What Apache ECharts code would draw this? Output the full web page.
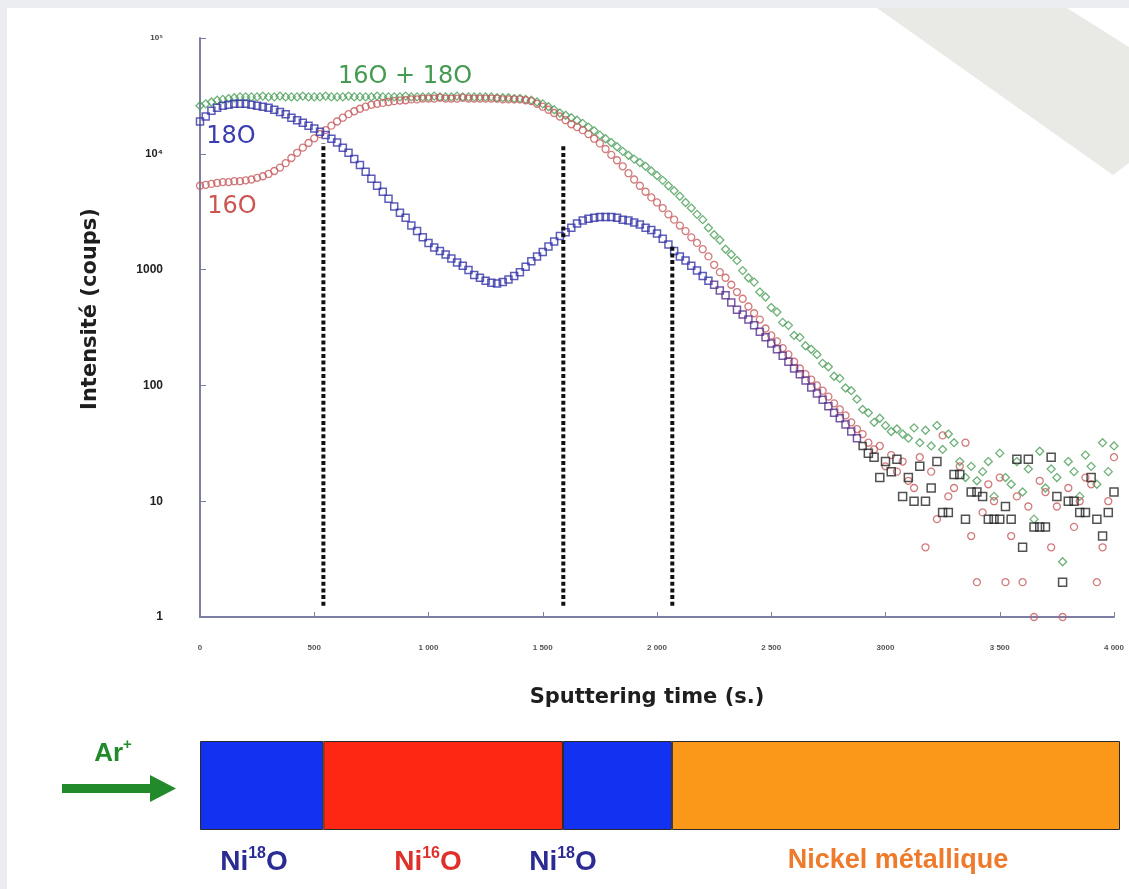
<!DOCTYPE html>
<html>
<head>
<meta charset="utf-8">
<title>Profil SIMS Ni18O / Ni16O</title>
<script src="https://cdn.jsdelivr.net/npm/echarts@6/dist/echarts.min.js"></script>
<style>
  html, body { margin: 0; padding: 0; background: #fff; }
  #chart { width: 1129px; height: 889px; }
</style>
</head>
<body>
<div id="chart"></div>
<script>
// un point toutes les 25 s, de 0 à 4000 s
var tStart = 0
var tStep = 25

// 16O + 18O (coups)
var o16o18 = [
  26000, 27000, 28000, 29000, 29500, 30000, 30500, 31000, 31000, 31000,
  31000, 31500, 31000, 31000, 31500, 31000, 31000, 31000, 31500, 31000,
  31000, 31000, 31500, 31000, 31000, 31000, 31500, 31000, 31000, 31000,
  31000, 31500, 31000, 31000, 31000, 31000, 31500, 31000, 31000, 31000,
  31000, 31500, 31000, 31000, 31000, 31500, 31000, 31000, 31000, 31000,
  31000, 31000, 30500, 30500, 30500, 30000, 30000, 29500, 29000, 28000,
  27000, 25500, 24000, 22500, 21500, 20500, 19500, 18300, 17000, 15800,
  14500, 13500, 12500, 11500, 10500, 9700, 9000, 8400, 7800, 7100,
  6500, 5900, 5300, 4800, 4300, 3800, 3400, 3000, 2700, 2300,
  2000, 1800, 1500, 1350, 1200, 980, 850, 780, 640, 580,
  470, 430, 350, 330, 270, 260, 220, 205, 185, 155,
  145, 120, 115, 95, 90, 76, 62, 58, 48, 52,
  45, 40, 42, 38, 35, 43, 32, 41, 30, 45,
  28, 38, 32, 22, 16, 20, 15, 18, 22, 11,
  26, 16, 14, 22, 12, 19, 7, 27, 13, 19,
  16, 3, 22, 18, 11, 25, 20, 14, 32, 18,
  30
]

// 16O (coups)
var o16 = [
  5300, 5400, 5500, 5600, 5700, 5700, 5800, 5800, 5900, 6000,
  6200, 6400, 6700, 7100, 7600, 8300, 9200, 10200, 11300, 12400,
  13600, 14800, 16000, 17500, 19000, 20500, 22000, 23300, 24500, 25500,
  26500, 27000, 27500, 28000, 28500, 28800, 29000, 29500, 29500, 30000,
  30000, 30000, 30500, 30000, 30000, 30000, 30500, 30000, 30000, 30000,
  30000, 30000, 30000, 29500, 29500, 29500, 29500, 29000, 28500, 27000,
  25500, 24000, 22500, 21000, 19500, 18000, 17000, 16000, 14800, 13500,
  12300, 11000, 9800, 8800, 7800, 6800, 6000, 5300, 4700, 4200,
  3800, 3400, 3000, 2700, 2400, 2150, 1900, 1700, 1500, 1300,
  1100, 950, 850, 740, 640, 560, 480, 420, 370, 310,
  270, 240, 210, 185, 160, 140, 125, 112, 100, 90,
  80, 70, 62, 55, 48, 42, 38, 32, 28, 30,
  20, 25, 18, 22, 15, 13, 24, 4, 18, 7,
  37, 11, 13, 20, 32, 5, 2, 8, 14, 10,
  16, 2, 5, 11, 2, 9, 1, 15, 12, 4,
  9, 1, 13, 6, 10, 16, 14, 2, 4, 10,
  24
]

// 18O (coups)
var o18 = [
  19000, 21000, 23500, 25000, 26000, 26500, 27000, 27000, 27000, 26500,
  26000, 25500, 25000, 24000, 23000, 22000, 20500, 19500, 18500, 17500,
  16500, 15500, 14500, 13500, 12500, 11300, 10200, 9000, 8000, 7000,
  6100, 5300, 4700, 4100, 3500, 3100, 2800, 2400, 2150, 1900,
  1700, 1550, 1450, 1350, 1250, 1150, 1080, 990, 900, 850,
  800, 770, 760, 780, 820, 880, 950, 1060, 1180, 1300,
  1420, 1580, 1750, 1950, 2100, 2300, 2500, 2650, 2750, 2800,
  2850, 2850, 2850, 2800, 2700, 2650, 2550, 2450, 2300, 2200,
  2050, 1850, 1650, 1450, 1300, 1200, 1080, 980, 880, 800,
  740, 660, 600, 520, 450, 410, 370, 330, 290, 260,
  230, 205, 180, 160, 140, 125, 110, 96, 85, 75,
  66, 58, 52, 46, 40, 35, 30, 26, 24, 16,
  22, 18, 23, 11, 16, 10, 20, 10, 13, 22,
  8, 8, 17, 17, 7, 12, 12, 11, 7, 7,
  7, 9, 7, 23, 4, 23, 6, 6, 6, 24,
  11, 2, 10, 10, 8, 8, 16, 7, 5, 8,
  12
]

// interfaces entre couches (s) et haut des pointillés (coups)
var interfaceTimes = [540, 1590, 2067]
var interfaceTops = [12400, 12100, 1600]
var interfaceBottom = 1.25

// empilement de l'échantillon (épaisseurs en s de pulvérisation)
var layerWidths = [540, 1050, 477, 1963]
var layerColors = ['#1331f0', '#fd2713', '#1331f0', '#fb9719']

var xTickLabels = ['0', '500', '1 000', '1 500', '2 000', '2 500', '3000', '3 500', '4 000']
var yTickLabels = ['1', '10', '100', '1000', '{b|10⁴}', '{s|10⁵}']

var FONT = 'Liberation Sans, Arial, sans-serif'
var TITLE_FONT = 'DejaVu Sans, Liberation Sans, sans-serif'

function toPoints(values, colorAt) {
  var pts = []
  values.forEach(function (v, i) {
    if (v == null) return
    var t = tStart + i * tStep
    pts.push({ value: [t, v], itemStyle: { borderColor: colorAt(t) } })
  })
  return pts
}

function o18Color(t) {
  if (t < 2250) return '#3535a8'
  if (t < 2900) return '#55308c'
  return '#262626'
}

var chart = echarts.init(document.getElementById('chart'))

var series = [
  {
    name: '16O + 18O',
    type: 'scatter',
    symbol: 'diamond',
    symbolSize: 8,
    itemStyle: { color: 'rgba(0,0,0,0)', borderWidth: 1.3 },
    data: toPoints(o16o18, function () { return '#4a9e58' })
  },
  {
    name: '16O',
    type: 'scatter',
    symbol: 'circle',
    symbolSize: 7,
    itemStyle: { color: 'rgba(0,0,0,0)', borderWidth: 1.3 },
    data: toPoints(o16, function () { return '#c55a5e' })
  },
  {
    name: '18O',
    type: 'scatter',
    symbol: 'rect',
    symbolSize: function (d) { return d[0] > 2900 ? 8 : 7 },
    itemStyle: { color: 'rgba(0,0,0,0)', borderWidth: 1.5 },
    data: toPoints(o18, o18Color)
  }
]

// pointillés verticaux aux interfaces
interfaceTimes.forEach(function (t, i) {
  series.push({
    type: 'line',
    symbol: 'none',
    lineStyle: { color: '#111', width: 4, type: [4, 2.7], cap: 'butt' },
    data: [[t, interfaceBottom], [t, interfaceTops[i]]],
    z: 5
  })
})

// barre des couches
layerWidths.forEach(function (w, i) {
  series.push({
    type: 'bar',
    xAxisIndex: 1,
    yAxisIndex: 1,
    stack: 'couches',
    barWidth: '100%',
    data: [w],
    itemStyle: { color: layerColors[i], borderColor: '#2a2a2a', borderWidth: 1 }
  })
})

function layerLabel(x, sup, color) {
  return {
    type: 'text',
    x: x,
    y: 861,
    style: {
      text: '{b|Ni}{s|' + sup + '}{b|O}',
      align: 'center',
      verticalAlign: 'middle',
      rich: {
        b: { font: 'bold 28px ' + FONT, fill: color, verticalAlign: 'bottom', lineHeight: 30 },
        s: { font: 'bold 16px ' + FONT, fill: color, verticalAlign: 'top', lineHeight: 30, padding: [0, 0, 10, 0] }
      }
    }
  }
}

var option = {
  animation: false,
  backgroundColor: '#fff',
  textStyle: { fontFamily: FONT },
  grid: [
    { left: 200, right: 15, top: 38, height: 579 },
    { left: 200, right: 9, top: 741, height: 89 }
  ],
  xAxis: [
    {
      type: 'value',
      min: 0,
      max: 4000,
      interval: 500,
      axisLine: { lineStyle: { color: '#7d7fa2', width: 2 } },
      axisTick: { inside: true, length: 5, lineStyle: { color: '#7d7fa2' } },
      axisLabel: {
        margin: 27,
        fontSize: 8,
        fontWeight: 'bold',
        color: '#555',
        formatter: function (v) { return xTickLabels[Math.round(v / 500)] }
      },
      splitLine: { show: false }
    },
    { gridIndex: 1, type: 'value', min: 0, max: 4030, show: false }
  ],
  yAxis: [
    {
      type: 'log',
      logBase: 10,
      min: 1,
      max: 100000,
      axisLine: { show: true, lineStyle: { color: '#7d7fa2', width: 2 } },
      axisTick: { show: true, inside: true, length: 6, lineStyle: { color: '#7d7fa2' } },
      axisLabel: {
        margin: 37,
        fontSize: 12,
        fontWeight: 'bold',
        color: '#222',
        formatter: function (v) { return yTickLabels[Math.round(Math.log10(v))] },
        rich: {
          b: { fontSize: 11, fontWeight: 'bold', color: '#222' },
          s: { fontSize: 8, fontWeight: 'bold', color: '#444' }
        }
      },
      splitLine: { show: false }
    },
    { gridIndex: 1, type: 'category', data: ['couches'], show: false }
  ],
  series: series,
  graphic: [
    // bords gris et ruban adhésif de la photo
    { type: 'rect', shape: { x: 0, y: 0, width: 1129, height: 8 }, style: { fill: '#ecedf0' }, silent: true },
    { type: 'rect', shape: { x: 0, y: 0, width: 7, height: 889 }, style: { fill: '#ecedf0' }, silent: true },
    {
      type: 'polygon',
      shape: { points: [[877, 8], [1067, 8], [1129, 47], [1129, 163], [1113, 175]] },
      style: { fill: '#e9e9e6' },
      silent: true
    },
    // titres des axes
    {
      type: 'text',
      x: 91,
      y: 309,
      rotation: Math.PI / 2,
      style: { text: 'Intensité (coups)', font: 'bold 21px ' + TITLE_FONT, fill: '#1e1e1e', align: 'center', verticalAlign: 'middle' }
    },
    {
      type: 'text',
      x: 647,
      y: 698,
      style: { text: 'Sputtering time (s.)', font: 'bold 21px ' + TITLE_FONT, fill: '#1e1e1e', align: 'center', verticalAlign: 'middle' }
    },
    { type: 'text', x: 405, y: 77, style: { text: '16O + 18O', font: '24px DejaVu Sans, sans-serif', fill: '#449a50', align: 'center', verticalAlign: 'middle' } },
    { type: 'text', x: 231, y: 137, style: { text: '18O', font: '24px DejaVu Sans, sans-serif', fill: '#3b3bb2', align: 'center', verticalAlign: 'middle' } },
    { type: 'text', x: 232, y: 207, style: { text: '16O', font: '24px DejaVu Sans, sans-serif', fill: '#cc5552', align: 'center', verticalAlign: 'middle' } },
    // faisceau Ar+
    {
      type: 'text',
      x: 113,
      y: 752,
      style: {
        text: '{b|Ar}{s|+}',
        align: 'center',
        verticalAlign: 'middle',
        rich: {
          b: { font: 'bold 26px ' + FONT, fill: '#238a2c', verticalAlign: 'bottom', lineHeight: 30 },
          s: { font: 'bold 15px ' + FONT, fill: '#238a2c', verticalAlign: 'top', lineHeight: 30, padding: [0, 0, 10, 0] }
        }
      }
    },
    { type: 'rect', shape: { x: 62, y: 784, width: 92, height: 9 }, style: { fill: '#238a2c' } },
    { type: 'polygon', shape: { points: [[150, 775], [176, 788.5], [150, 802]] }, style: { fill: '#238a2c' } },
    layerLabel(254, '18', '#2b2b94'),
    layerLabel(428, '16', '#e0302a'),
    layerLabel(563, '18', '#2b2b94'),
    {
      type: 'text',
      x: 898,
      y: 861,
      style: { text: 'Nickel métallique', font: 'bold 27px ' + FONT, fill: '#ee7a2c', align: 'center', verticalAlign: 'middle' }
    }
  ]
}

chart.setOption(option)
</script>
</body>
</html>
